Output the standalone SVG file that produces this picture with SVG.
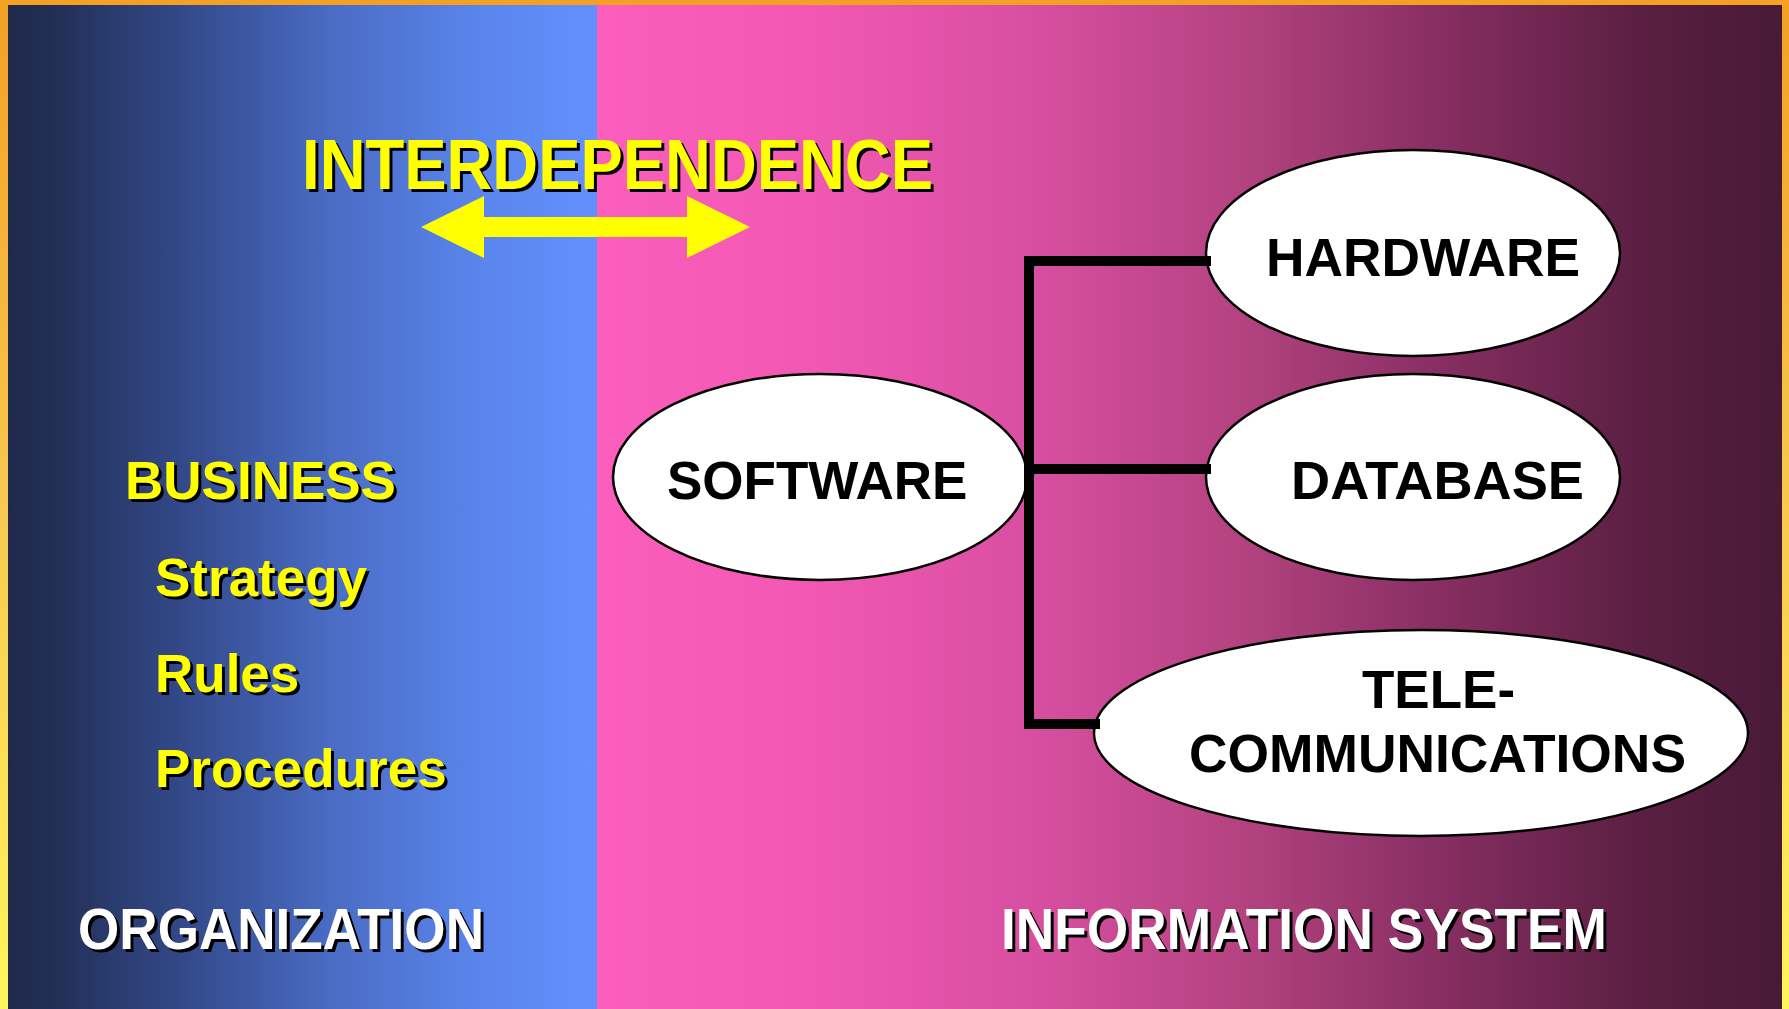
<svg xmlns="http://www.w3.org/2000/svg" width="1789" height="1009" viewBox="0 0 1789 1009">
  <defs>
    <linearGradient id="gOrg" x1="0" y1="0" x2="1" y2="0">
      <stop offset="0" stop-color="#1F2A4B"/>
      <stop offset="0.08" stop-color="#222F56"/>
      <stop offset="0.3" stop-color="#33498A"/>
      <stop offset="0.55" stop-color="#4A6CC4"/>
      <stop offset="0.8" stop-color="#5A85EC"/>
      <stop offset="1" stop-color="#6490FF"/>
    </linearGradient>
    <linearGradient id="gIS" x1="0" y1="0" x2="1" y2="0">
      <stop offset="0" stop-color="#FB5EBC"/>
      <stop offset="0.18" stop-color="#F258B3"/>
      <stop offset="0.38" stop-color="#D64E9F"/>
      <stop offset="0.55" stop-color="#B2427F"/>
      <stop offset="0.72" stop-color="#852D60"/>
      <stop offset="0.88" stop-color="#5A1F42"/>
      <stop offset="1" stop-color="#481A36"/>
    </linearGradient>
    <linearGradient id="gBorder" x1="0" y1="0" x2="0" y2="1">
      <stop offset="0" stop-color="#F3A024"/>
      <stop offset="0.5" stop-color="#F8C850"/>
      <stop offset="1" stop-color="#FFF65C"/>
    </linearGradient>
  </defs>
  <style>
    .t { font-family: "Liberation Sans", Arial, sans-serif; font-weight: bold; }
    .sh { fill: #000000; }
    .yel { fill: #FFFF00; }
    .wht { fill: #FFFFFF; }
    .node { fill: #FFFFFF; stroke: #000000; stroke-width: 2.5; }
    .lbl { fill: #000000; font-size: 53px; }
    .conn { fill: none; stroke: #000000; stroke-width: 10; stroke-linecap: square; }
  </style>

  <!-- background -->
  <rect x="0" y="0" width="1789" height="1009" fill="#F3A024"/>
  <rect x="0" y="0" width="8" height="1009" fill="url(#gBorder)"/>
  <rect x="1782" y="0" width="7" height="1009" fill="url(#gBorder)"/>
  <rect x="8" y="5" width="589" height="1004" fill="url(#gOrg)"/>
  <rect x="597" y="5" width="1185" height="1004" fill="url(#gIS)"/>

  <!-- interdependence title and arrow -->
  <g id="interdependence">
    <text class="t sh" x="305" y="192" font-size="70" textLength="631" lengthAdjust="spacingAndGlyphs">INTERDEPENDENCE</text>
    <text class="t yel" x="302" y="189" font-size="70" textLength="631" lengthAdjust="spacingAndGlyphs">INTERDEPENDENCE</text>
    <polygon fill="#FFFF00" points="421,227 484,196 484,217 687,217 687,196 750,227 687,258 687,237 484,237 484,258"/>
  </g>

  <!-- organization side -->
  <g id="business">
    <text class="t sh" x="128" y="502" font-size="53">BUSINESS</text>
    <text class="t yel" x="125" y="499" font-size="53">BUSINESS</text>
    <text class="t sh" x="158" y="599" font-size="53">Strategy</text>
    <text class="t yel" x="155" y="596" font-size="53">Strategy</text>
    <text class="t sh" x="158" y="695" font-size="53">Rules</text>
    <text class="t yel" x="155" y="692" font-size="53">Rules</text>
    <text class="t sh" x="158" y="790" font-size="53">Procedures</text>
    <text class="t yel" x="155" y="787" font-size="53">Procedures</text>
  </g>

  <g id="organization">
    <text class="t sh" x="81" y="952" font-size="58" textLength="406" lengthAdjust="spacingAndGlyphs">ORGANIZATION</text>
    <text class="t wht" x="78" y="949" font-size="58" textLength="406" lengthAdjust="spacingAndGlyphs">ORGANIZATION</text>
  </g>

  <g id="information-system">
    <text class="t sh" x="1004" y="952" font-size="58" textLength="606" lengthAdjust="spacingAndGlyphs">INFORMATION SYSTEM</text>
    <text class="t wht" x="1001" y="949" font-size="58" textLength="606" lengthAdjust="spacingAndGlyphs">INFORMATION SYSTEM</text>
  </g>

  <!-- nodes -->
  <g id="software">
    <ellipse class="node" cx="820" cy="477" rx="207" ry="103"/>
    <text class="t lbl" x="667" y="499">SOFTWARE</text>
  </g>
  <g id="hardware">
    <ellipse class="node" cx="1413" cy="253" rx="207" ry="103"/>
    <text class="t lbl" x="1266" y="276" textLength="314" lengthAdjust="spacingAndGlyphs">HARDWARE</text>
  </g>
  <g id="database">
    <ellipse class="node" cx="1413" cy="477" rx="207" ry="103"/>
    <text class="t lbl" x="1291" y="499" textLength="293" lengthAdjust="spacingAndGlyphs">DATABASE</text>
  </g>
  <g id="telecommunications">
    <ellipse class="node" cx="1421" cy="733" rx="327" ry="103"/>
    <text class="t lbl" x="1362" y="708">TELE-</text>
    <text class="t lbl" x="1189" y="772" textLength="497" lengthAdjust="spacingAndGlyphs">COMMUNICATIONS</text>
  </g>

  <!-- connectors -->
  <g id="connectors">
    <path class="conn" d="M1029,261 L1029,724"/>
    <path class="conn" d="M1029,261 L1206,261" stroke-linecap="butt"/>
    <path class="conn" d="M1029,469 L1206,469" stroke-linecap="butt"/>
    <path class="conn" d="M1029,724 L1095,724" stroke-linecap="butt"/>
  </g>
</svg>
